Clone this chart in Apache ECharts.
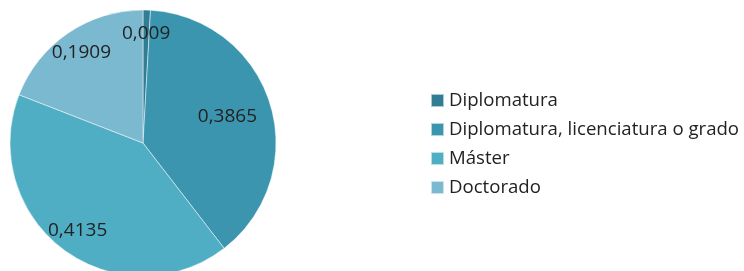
<!DOCTYPE html>
<html>
<head>
<meta charset="utf-8">
<script src="https://cdn.jsdelivr.net/npm/echarts@6/dist/echarts.min.js"></script>
<style>
  html, body { margin: 0; padding: 0; background: #fff; }
  #main { width: 744px; height: 271px; }
</style>
</head>
<body>
<div id="main"></div>
<script>
// categorias y valores
var categories = ['Diplomatura', 'Diplomatura, licenciatura o grado', 'Máster', 'Doctorado'];
var values = [0.009, 0.3865, 0.4135, 0.1909];
var colors = ['#307d94', '#3c95ae', '#50aec4', '#7bb9d1'];

var cx = 143, cy = 143, R = 133;

var myChart = echarts.init(document.getElementById('main'));

// angulo medio de cada porcion (empieza arriba, sentido horario)
var total = values.reduce(function (a, b) { return a + b; }, 0);
var midAngles = [];
var acc = 0;
values.forEach(function (v) {
    midAngles.push((acc + v / 2) / total * Math.PI * 2);
    acc += v;
});

var dataArr = categories.map(function (name, i) {
    return { name: name, value: values[i] };
});

var option = {
    color: colors,
    animation: false,
    legend: {
        orient: 'vertical',
        left: 430,
        top: 90,
        padding: 0,
        itemWidth: 13,
        itemHeight: 13,
        itemGap: 8,
        icon: 'rect',
        textStyle: {
            fontFamily: 'Open Sans',
            fontSize: 18.6,
            color: '#222',
            lineHeight: 21,
            padding: [0, 0, 0, 0]
        },
        data: categories
    },
    series: [
        {
            type: 'pie',
            center: [cx, cy],
            radius: R,
            startAngle: 90,
            clockwise: true,
            itemStyle: {
                borderColor: 'rgba(255,255,255,0.6)',
                borderWidth: 0.8
            },
            label: {
                show: true,
                position: 'inside',
                fontFamily: 'Open Sans',
                fontSize: 19,
                color: '#222',
                formatter: function (p) {
                    return String(p.value).replace('.', ',');
                }
            },
            labelLine: { show: false },
            // etiquetas cerca del borde; las laterales se meten para caber en el circulo
            labelLayout: function (params) {
                var a = midAngles[params.dataIndex];
                var dx = Math.sin(a), dy = -Math.cos(a);
                var w = params.labelRect.width;
                var x = dx * R * 0.82, y = dy * R * 0.82;
                if (Math.abs(dx) > 0.9) {
                    var maxX = Math.sqrt(R * R - y * y) - 15 - w / 2;
                    if (Math.abs(x) > maxX) {
                        var k = maxX / Math.abs(x);
                        x *= k;
                        y *= k;
                    }
                }
                return { x: cx + x, y: cy + y };
            },
            data: dataArr
        }
    ]
};
myChart.setOption(option);
</script>
</body>
</html>
